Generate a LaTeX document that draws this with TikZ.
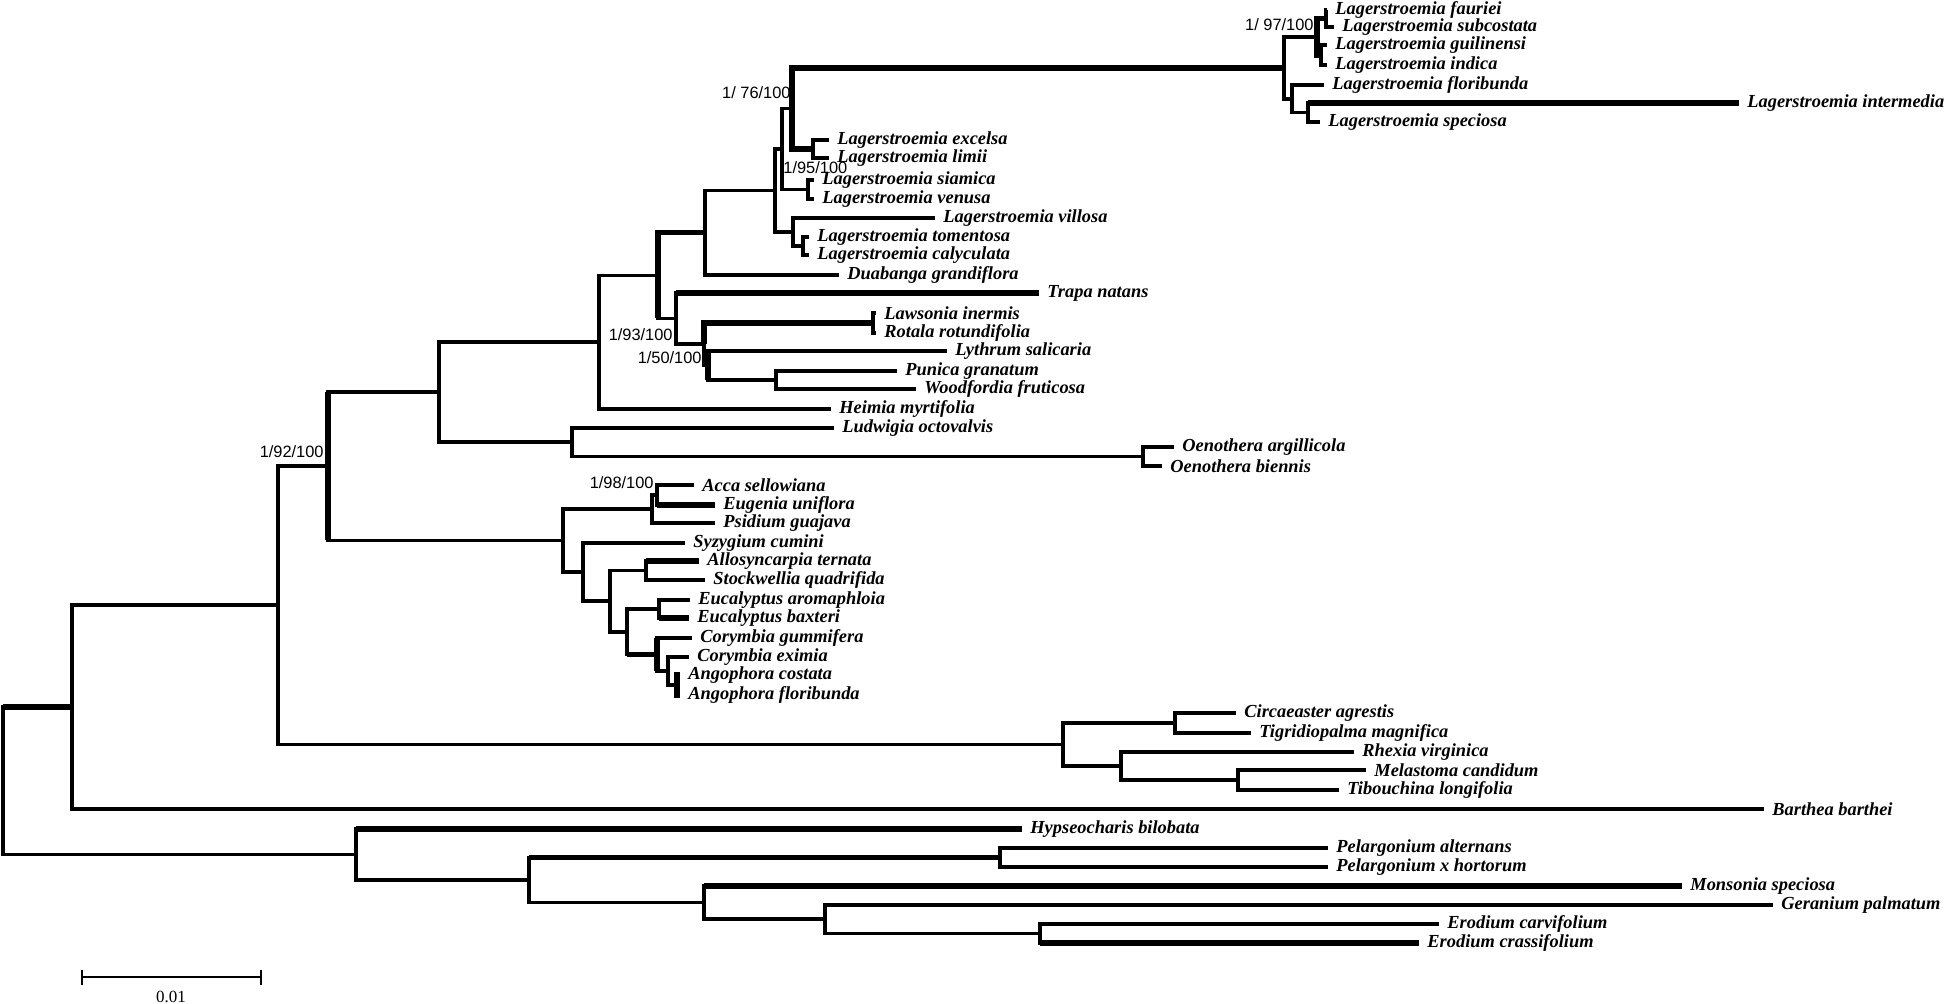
\documentclass[tikz,border=0pt]{standalone}
\usepackage{fontspec}
\setmainfont{Liberation Serif}
\newfontfamily\suppfont{Liberation Sans}
\usepackage{tikz}

\begin{document}
\begin{tikzpicture}[x=0.5pt,y=-0.5pt,
  br/.style={line width=1.65pt},
  thk/.style={line width=2.7pt},
  taxon/.style={anchor=west,inner xsep=4pt,inner ysep=0pt,
    font=\fontsize{9.2}{10}\selectfont\bfseries\itshape},
  supp/.style={inner sep=0pt,font=\suppfont\fontsize{8.2}{9}\selectfont}]
\useasboundingbox (0,0) rectangle (1946,1004);

% Internal nodes
\coordinate (root) at (3,781);
\coordinate (A) at (72,707);
\coordinate (B) at (278,605);
\coordinate (C) at (328,466);
\coordinate (D) at (439,392);
\coordinate (F) at (599,342);
\coordinate (G) at (658,275.5);
\coordinate (H) at (705,232.5);
\coordinate (N) at (775,190.5);
\coordinate (N1) at (782,149);
\coordinate (N4) at (792,108.5);
\coordinate (N6) at (813,149);
\coordinate (N5) at (808,189.5);
\coordinate (N2) at (793,232);
\coordinate (N3) at (803,246);
\coordinate (Z) at (1284,68);
\coordinate (Z1) at (1317,37);
\coordinate (Z3) at (1326,18.5);
\coordinate (Z4) at (1321,55);
\coordinate (Z2) at (1292,99);
\coordinate (Z5) at (1308,112.5);
\coordinate (I) at (676,318.5);
\coordinate (J) at (704,344);
\coordinate (K) at (873,323);
\coordinate (J2) at (708,365.5);
\coordinate (L) at (776,380);
\coordinate (O) at (572,442);
\coordinate (Oe) at (1143,456.5);
\coordinate (E) at (563,540.5);
\coordinate (E1) at (652,509);
\coordinate (E3) at (657,495);
\coordinate (E2) at (583,572);
\coordinate (E4) at (610,601);
\coordinate (E5) at (646,570.5);
\coordinate (E6) at (627,632);
\coordinate (E7) at (659,609);
\coordinate (E8) at (657,654.5);
\coordinate (E9) at (668,671);
\coordinate (E10) at (677,685);
\coordinate (M) at (1063,744.5);
\coordinate (M1) at (1175,723);
\coordinate (M2) at (1121,766);
\coordinate (M3) at (1238,780);
\coordinate (P) at (356,854.5);
\coordinate (Q) at (529,880);
\coordinate (Pe) at (1000,857.5);
\coordinate (R) at (704,902.5);
\coordinate (S) at (825,919);
\coordinate (T) at (1040,933.5);

% Taxa
\node[taxon] (fau) at (1327,10) {Lagerstroemia fauriei};
\node[taxon] (sub) at (1334,27) {Lagerstroemia subcostata};
\node[taxon] (gui) at (1327,45) {Lagerstroemia guilinensi};
\node[taxon] (ind) at (1327,65) {Lagerstroemia indica};
\node[taxon] (flo) at (1324,85) {Lagerstroemia floribunda};
\node[taxon] (int) at (1739,103) {Lagerstroemia intermedia};
\node[taxon] (spe) at (1320,122) {Lagerstroemia speciosa};
\node[taxon] (exc) at (829,140) {Lagerstroemia excelsa};
\node[taxon] (lim) at (829,158) {Lagerstroemia limii};
\node[taxon] (sia) at (814,180) {Lagerstroemia siamica};
\node[taxon] (ven) at (814,199) {Lagerstroemia venusa};
\node[taxon] (vil) at (935,218) {Lagerstroemia villosa};
\node[taxon] (tom) at (809,237) {Lagerstroemia tomentosa};
\node[taxon] (cal) at (809,255) {Lagerstroemia calyculata};
\node[taxon] (dua) at (839,275) {Duabanga grandiflora};
\node[taxon] (tra) at (1039,293) {Trapa natans};
\node[taxon] (law) at (876,313) {Lawsonia inermis};
\node[taxon] (rot) at (876,333) {Rotala rotundifolia};
\node[taxon] (lyt) at (947,351) {Lythrum salicaria};
\node[taxon] (pun) at (897,371) {Punica granatum};
\node[taxon] (woo) at (916,389) {Woodfordia fruticosa};
\node[taxon] (hei) at (831,409) {Heimia myrtifolia};
\node[taxon] (lud) at (834,428) {Ludwigia octovalvis};
\node[taxon] (arg) at (1174,447) {Oenothera argillicola};
\node[taxon] (bie) at (1162,466) {Oenothera biennis};
\node[taxon] (acc) at (694,485) {Acca sellowiana};
\node[taxon] (eug) at (715,505) {Eugenia uniflora};
\node[taxon] (psi) at (715,523) {Psidium guajava};
\node[taxon] (syz) at (685,543) {Syzygium cumini};
\node[taxon] (all) at (699,561) {Allosyncarpia ternata};
\node[taxon] (sto) at (705,580) {Stockwellia quadrifida};
\node[taxon] (aro) at (690,600) {Eucalyptus aromaphloia};
\node[taxon] (bax) at (689,618) {Eucalyptus baxteri};
\node[taxon] (gum) at (692,638) {Corymbia gummifera};
\node[taxon] (exi) at (689,657) {Corymbia eximia};
\node[taxon] (cos) at (680,675) {Angophora costata};
\node[taxon] (afl) at (680,695) {Angophora floribunda};
\node[taxon] (cir) at (1236,713) {Circaeaster agrestis};
\node[taxon] (tig) at (1251,733) {Tigridiopalma magnifica};
\node[taxon] (rhe) at (1354,752) {Rhexia virginica};
\node[taxon] (mel) at (1366,770) {Melastoma candidum};
\node[taxon] (tib) at (1339,790) {Tibouchina longifolia};
\node[taxon] (bar) at (1764,809) {Barthea barthei};
\node[taxon] (hyp) at (1022,829) {Hypseocharis bilobata};
\node[taxon] (alt) at (1328,848) {Pelargonium alternans};
\node[taxon] (hor) at (1328,867) {Pelargonium x hortorum};
\node[taxon] (mon) at (1682,886) {Monsonia speciosa};
\node[taxon] (ger) at (1773,905) {Geranium palmatum};
\node[taxon] (car) at (1439,924) {Erodium carvifolium};
\node[taxon] (cra) at (1419,943) {Erodium crassifolium};

% Backbone
\draw[br] (root) |- (A);
\draw[thk] (root|-A) -- (A);
\draw[br] (root) |- (P);
\draw[br] (A) |- (B);
\draw[br] (A) |- (bar.west);
\draw[br] (B) |- (C);
\draw[br] (B) |- (M);
\draw[br] (C) |- (D);
\draw[br] (C) |- (E);
\draw[thk] (C|-D) -- (C|-E);
\draw[br] (D) |- (F);
\draw[br] (D) |- (O);

% Lythraceae
\draw[br] (F) |- (G);
\draw[br] (F) |- (hei.west);
\draw[thk] (G) |- (H);
\draw[br] (G) |- (I);
\draw[thk] (G|-H) -- (G|-I);
\draw[br] (H) |- (N);
\draw[br] (H) |- (dua.west);
\draw[br] (N) |- (N1);
\draw[br] (N) |- (N2);
\draw[br] (N1) |- (N4);
\draw[br] (N1) |- (N5);
\draw[thk] (N4) |- (Z);
\draw[thk] (N4) |- (N6);
\draw[br] (N6) |- (exc.west);
\draw[br] (N6) |- (lim.west);
\draw[br] (N5) |- (sia.west);
\draw[br] (N5) |- (ven.west);
\draw[br] (N2) |- (vil.west);
\draw[br] (N2) |- (N3);
\draw[br] (N3) |- (tom.west);
\draw[br] (N3) |- (cal.west);
\draw[br] (Z) |- (Z1);
\draw[br] (Z) |- (Z2);
\draw[thk] (Z1) |- (Z3);
\draw[thk] (Z1) |- (Z4);
\draw[br] (Z3) |- (fau.west);
\draw[br] (Z3) |- (sub.west);
\draw[br] (Z4) |- (gui.west);
\draw[br] (Z4) |- (ind.west);
\draw[br] (Z2) |- (flo.west);
\draw[br] (Z2) |- (Z5);
\draw[br] (Z5) |- (int.west);
\draw[thk] (Z5|-int.west) -- (int.west);
\draw[br] (Z5) |- (spe.west);
\draw[br] (I) |- (tra.west);
\draw[thk] (I|-tra.west) -- (tra.west);
\draw[br] (I) |- (J);
\draw[thk] (J) |- (K);
\draw[br] (J) |- (J2);
\draw[br] (K) |- (law.west);
\draw[br] (K) |- (rot.west);
\draw[br] (J2) |- (lyt.west);
\draw[br] (J2) |- (L);
\draw[thk] (J2|-lyt.west) -- (J2|-L);
\draw[br] (L) |- (pun.west);
\draw[br] (L) |- (woo.west);

% Onagraceae
\draw[br] (O) |- (lud.west);
\draw[br] (O) |- (Oe);
\draw[br] (Oe) |- (arg.west);
\draw[br] (Oe) |- (bie.west);

% Myrtaceae
\draw[br] (E) |- (E1);
\draw[br] (E) |- (E2);
\draw[br] (E1) |- (E3);
\draw[br] (E1) |- (psi.west);
\draw[br] (E3) |- (acc.west);
\draw[br] (E3) |- (eug.west);
\draw[thk] (E3|-eug.west) -- (eug.west);
\draw[br] (E2) |- (syz.west);
\draw[br] (E2) |- (E4);
\draw[br] (E4) |- (E5);
\draw[br] (E4) |- (E6);
\draw[br] (E5) |- (all.west);
\draw[thk] (E5|-all.west) -- (all.west);
\draw[br] (E5) |- (sto.west);
\draw[br] (E6) |- (E7);
\draw[br] (E6) |- (E8);
\draw[thk] (E6|-E8) -- (E8);
\draw[br] (E7) |- (aro.west);
\draw[br] (E7) |- (bax.west);
\draw[thk] (E7|-bax.west) -- (bax.west);
\draw[br] (E8) |- (gum.west);
\draw[br] (E8) |- (E9);
\draw[thk] (E8|-gum.west) -- (E8|-E9);
\draw[br] (E9) |- (exi.west);
\draw[br] (E9) |- (E10);
\draw[thk] (E10) |- (cos.west);
\draw[thk] (E10) |- (afl.west);

% Melastomataceae
\draw[br] (M) |- (M1);
\draw[br] (M) |- (M2);
\draw[br] (M1) |- (cir.west);
\draw[br] (M1) |- (tig.west);
\draw[br] (M2) |- (rhe.west);
\draw[br] (M2) |- (M3);
\draw[br] (M3) |- (mel.west);
\draw[br] (M3) |- (tib.west);

% Geraniaceae (outgroup)
\draw[br] (P) |- (hyp.west);
\draw[thk] (P|-hyp.west) -- (hyp.west);
\draw[br] (P) |- (Q);
\draw[br] (Q) |- (Pe);
\draw[thk] (Q|-Pe) -- (Pe);
\draw[br] (Q) |- (R);
\draw[br] (Pe) |- (alt.west);
\draw[br] (Pe) |- (hor.west);
\draw[br] (R) |- (mon.west);
\draw[thk] (R|-mon.west) -- (mon.west);
\draw[br] (R) |- (S);
\draw[br] (S) |- (ger.west);
\draw[br] (S) |- (T);
\draw[br] (T) |- (car.west);
\draw[br] (T) |- (cra.west);
\draw[thk] (T|-cra.west) -- (cra.west);

% Support values
\node[supp,anchor=east] (s97) at (1314,25) {1/ 97/100};
\node[supp,anchor=east] (s76) at (791,93) {1/ 76/100};
\node[supp,anchor=west] (s95) at (783,168) {1/95/100};
\node[supp,anchor=east] (s93) at (673,335) {1/93/100};
\node[supp,anchor=east] (s50) at (702,358) {1/50/100};
\node[supp,anchor=east] (s92) at (324,452) {1/92/100};
\node[supp,anchor=east] (s98) at (654,483) {1/98/100};

% Scale bar
\coordinate (sbl) at (82,977);
\coordinate (sbr) at (261,977);
\draw[line width=1pt] (sbl) -- (sbr);
\draw[line width=1pt] ([yshift=3.5pt]sbl) -- ([yshift=-4pt]sbl);
\draw[line width=1pt] ([yshift=3.5pt]sbr) -- ([yshift=-4pt]sbr);
\node[inner sep=0pt,font=\fontsize{8.5}{9}\selectfont] (sblab) at (171,997) {0.01};
\end{tikzpicture}
\end{document}
